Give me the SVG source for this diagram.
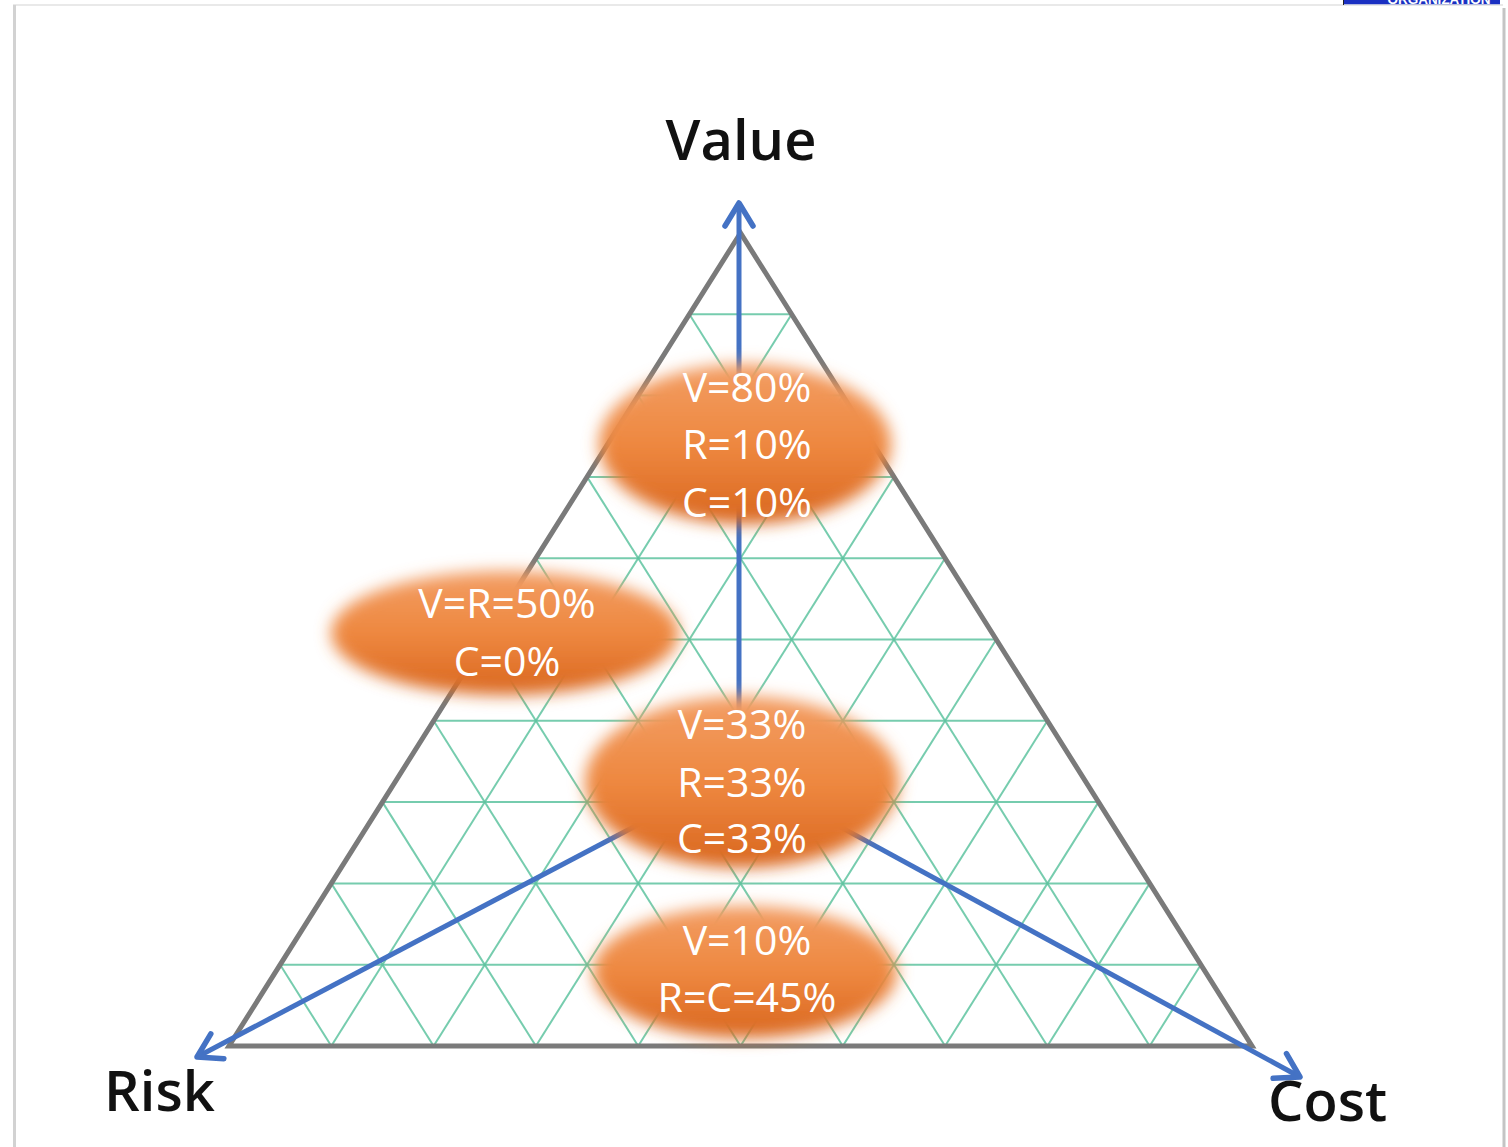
<svg xmlns="http://www.w3.org/2000/svg" width="1508" height="1147" viewBox="0 0 1508 1147">
<style>
.grid line{stroke:#5fc4a0;stroke-width:2;opacity:0.85}
.tri{fill:none;stroke:#7a7a7a;stroke-width:5;stroke-linejoin:miter}
.arrow{fill:none;stroke:#4472c4;stroke-width:5;stroke-linecap:butt}
.blob{fill:url(#og);filter:url(#soft)}
.bt{font-family:"Open Sans","Noto Sans",sans-serif;font-size:41px;fill:#ffffff;text-anchor:middle}
.axis{font-family:"Open Sans","Noto Sans",sans-serif;font-size:56px;font-weight:600;fill:#111111}
</style>
<defs>
<linearGradient id="og" x1="0" y1="0" x2="0" y2="1">
<stop offset="0" stop-color="#f39d63"/>
<stop offset="0.5" stop-color="#ee8840"/>
<stop offset="1" stop-color="#d9661e"/>
</linearGradient>
<filter id="soft" x="-30%" y="-40%" width="160%" height="180%">
<feGaussianBlur stdDeviation="8"/>
</filter>
<marker id="ah" markerUnits="userSpaceOnUse" markerWidth="40" markerHeight="40" viewBox="-30 -20 40 40" refX="0" refY="0" orient="auto">
<path d="M -23 -14 L 0 0 L -23 14" fill="none" stroke="#4472c4" stroke-width="5.5" stroke-linecap="round" stroke-linejoin="round"/>
</marker>
<clipPath id="topclip"><rect x="1343" y="0" width="157" height="4.5"/></clipPath>
</defs>

<g id="frame">
<line x1="13" y1="5" x2="1503" y2="5" stroke="#e2e2e2" stroke-width="1.5"/>
<line x1="14.5" y1="5" x2="14.5" y2="1147" stroke="#d2d2d2" stroke-width="3"/>
<line x1="1504" y1="8" x2="1504" y2="1147" stroke="#c4c4c4" stroke-width="3"/>
<g clip-path="url(#topclip)">
<rect x="1343" y="0" width="157" height="4.5" fill="#1a30c2"/>
<text x="1439" y="4" font-family="'Liberation Sans',sans-serif" font-size="13.5" font-weight="bold" fill="#ffffff" text-anchor="middle">ORGANIZATION</text>
</g>
<line x1="1343.5" y1="0" x2="1343.5" y2="5" stroke="#222" stroke-width="1"/>
</g>

<g id="grid" class="grid">
<line x1="689.35" y1="314.3" x2="791.65" y2="314.3"/>
<line x1="638.2" y1="395.6" x2="842.8" y2="395.6"/>
<line x1="587.05" y1="476.9" x2="893.95" y2="476.9"/>
<line x1="535.9" y1="558.2" x2="945.1" y2="558.2"/>
<line x1="484.75" y1="639.5" x2="996.25" y2="639.5"/>
<line x1="433.6" y1="720.8" x2="1047.4" y2="720.8"/>
<line x1="382.45" y1="802.1" x2="1098.55" y2="802.1"/>
<line x1="331.3" y1="883.4" x2="1149.7" y2="883.4"/>
<line x1="280.15" y1="964.7" x2="1200.85" y2="964.7"/>
<line x1="791.65" y1="314.3" x2="331.3" y2="1046"/>
<line x1="842.8" y1="395.6" x2="433.6" y2="1046"/>
<line x1="893.95" y1="476.9" x2="535.9" y2="1046"/>
<line x1="945.1" y1="558.2" x2="638.2" y2="1046"/>
<line x1="996.25" y1="639.5" x2="740.5" y2="1046"/>
<line x1="1047.4" y1="720.8" x2="842.8" y2="1046"/>
<line x1="1098.55" y1="802.1" x2="945.1" y2="1046"/>
<line x1="1149.7" y1="883.4" x2="1047.4" y2="1046"/>
<line x1="1200.85" y1="964.7" x2="1149.7" y2="1046"/>
<line x1="689.35" y1="314.3" x2="1149.7" y2="1046"/>
<line x1="638.2" y1="395.6" x2="1047.4" y2="1046"/>
<line x1="587.05" y1="476.9" x2="945.1" y2="1046"/>
<line x1="535.9" y1="558.2" x2="842.8" y2="1046"/>
<line x1="484.75" y1="639.5" x2="740.5" y2="1046"/>
<line x1="433.6" y1="720.8" x2="638.2" y2="1046"/>
<line x1="382.45" y1="802.1" x2="535.9" y2="1046"/>
<line x1="331.3" y1="883.4" x2="433.6" y2="1046"/>
<line x1="280.15" y1="964.7" x2="331.3" y2="1046"/>
</g>

<g id="triangle">
<polygon class="tri" points="740.5,233 229,1046 1252,1046"/>
</g>

<g id="connectors">
<line class="arrow" x1="739" y1="770" x2="739" y2="203" marker-end="url(#ah)"/>
<line class="arrow" x1="740" y1="771" x2="197" y2="1057" marker-end="url(#ah)"/>
<line class="arrow" x1="745" y1="775" x2="1300" y2="1077" marker-end="url(#ah)"/>
</g>

<g id="blob-v80">
<ellipse class="blob" cx="745" cy="444" rx="146" ry="80"/>
<text class="bt" x="747" y="402">V=80%</text>
<text class="bt" x="747" y="459">R=10%</text>
<text class="bt" x="747" y="517">C=10%</text>
</g>

<g id="blob-v50">
<ellipse class="blob" cx="505" cy="633" rx="174" ry="62"/>
<text class="bt" x="507" y="618">V=R=50%</text>
<text class="bt" x="507" y="676">C=0%</text>
</g>

<g id="blob-v33">
<ellipse class="blob" cx="742" cy="782" rx="157" ry="86"/>
<text class="bt" x="742" y="739">V=33%</text>
<text class="bt" x="742" y="797">R=33%</text>
<text class="bt" x="742" y="853">C=33%</text>
</g>

<g id="blob-v10">
<ellipse class="blob" cx="745" cy="972" rx="152" ry="66"/>
<text class="bt" x="747" y="955">V=10%</text>
<text class="bt" x="747" y="1012">R=C=45%</text>
</g>

<g id="label-value"><text class="axis" x="741" y="160" text-anchor="middle">Value</text></g>
<g id="label-risk"><text class="axis" x="104" y="1111">Risk</text></g>
<g id="label-cost"><text class="axis" x="1268" y="1121">Cost</text></g>
</svg>
